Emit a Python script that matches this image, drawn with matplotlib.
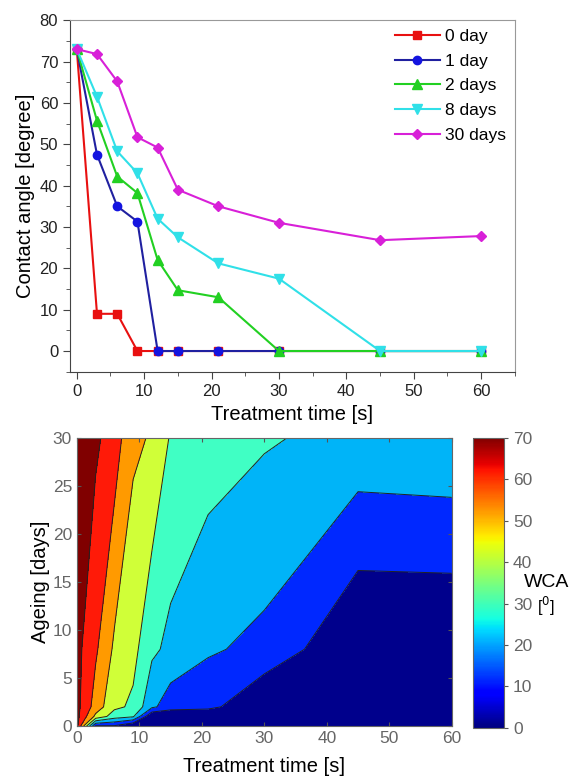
import matplotlib

matplotlib.use("Agg")
import matplotlib.pyplot as plt
import numpy as np
from matplotlib.ticker import MultipleLocator

# treatment time [s] and ageing [days]
times_s = [0, 3, 6, 9, 12, 15, 21, 30, 45, 60]
ageing_days = [0, 1, 2, 8, 30]
series_labels = ["0 day", "1 day", "2 days", "8 days", "30 days"]

wca_0_day = [73, 9, 9, 0, 0, 0, 0, 0, 0, 0]
wca_1_day = [73, 47.5, 35, 31.3, 0, 0, 0, 0, 0, 0]
wca_2_days = [73, 55.7, 42.2, 38.2, 22, 14.7, 13, 0, 0, 0]
wca_8_days = [73, 61.5, 48.3, 43, 32, 27.5, 21.2, 17.5, 0, 0]
wca_30_days = [73, 71.8, 65.2, 51.7, 49.2, 39, 35, 31, 26.8, 27.8]

contour_levels = [0, 10, 20, 30, 40, 50, 60, 70, 80]
band_colors = ["#00008c", "#0028ff", "#00b4f8", "#40ffc4",
               "#d0ff38", "#ff9a00", "#ff1a08", "#800000"]
colorbar_ticks = [0, 10, 20, 30, 40, 50, 60, 70]

plt.rcParams["font.family"] = ["Liberation Sans", "DejaVu Sans"]

fig = plt.figure(figsize=(5.74, 7.76), dpi=100)

# ---- top: contact angle vs treatment time ----
ax = fig.add_axes([0.122, 0.521, 0.775, 0.453])
styles = [
    ("#e81010", "#e81010", "s", 5.2),
    ("#2020a0", "#1414e0", "o", 6.0),
    ("#22d022", "#22d022", "^", 6.5),
    ("#30e0e8", "#30e0e8", "v", 6.5),
    ("#d820d8", "#d820d8", "D", 5.5),
]
all_series = [wca_0_day, wca_1_day, wca_2_days, wca_8_days, wca_30_days]
for values, label, (lcolor, mcolor, marker, msize) in zip(all_series, series_labels, styles):
    ax.plot(times_s, values, color=lcolor, marker=marker, markersize=msize,
            markerfacecolor=mcolor, markeredgecolor=mcolor, linewidth=1.5, label=label)

ax.set_xlim(-1, 65)
ax.set_ylim(-5, 80)
ax.xaxis.set_major_locator(MultipleLocator(10))
ax.xaxis.set_minor_locator(MultipleLocator(5))
ax.yaxis.set_major_locator(MultipleLocator(10))
ax.yaxis.set_minor_locator(MultipleLocator(5))
ax.tick_params(which="both", direction="out", colors="#444", labelsize=12, labelcolor="#222")
ax.tick_params(which="major", length=5)
ax.tick_params(which="minor", length=3)
for side in ["left", "bottom"]:
    ax.spines[side].set_color("#444")
for side in ["top", "right"]:
    ax.spines[side].set_color("#999")
ax.set_xlabel("Treatment time [s]", fontsize=14.5, labelpad=5)
ax.set_ylabel("Contact angle [degree]", fontsize=14.5, labelpad=3)
ax.legend(loc="upper right", frameon=False, fontsize=12.5, handlelength=2.6,
          handletextpad=0.3, labelspacing=0.55, borderaxespad=0.1)

# ---- bottom: contour map of WCA ----
ax2 = fig.add_axes([0.134, 0.0644, 0.653, 0.371])
Z = np.array(all_series)
ax2.contourf(times_s, ageing_days, Z, levels=contour_levels, colors=band_colors)
ax2.contour(times_s, ageing_days, Z, levels=contour_levels[1:-1], colors="#222", linewidths=0.7)
ax2.set_xlim(0, 60)
ax2.set_ylim(0, 30)
ax2.xaxis.set_major_locator(MultipleLocator(10))
ax2.yaxis.set_major_locator(MultipleLocator(5))
ax2.tick_params(direction="in", top=True, right=True, length=3, colors="#555",
                labelsize=12.5, labelcolor="#666")
for side in ax2.spines:
    ax2.spines[side].set_color("#666")
ax2.set_xlabel("Treatment time [s]", fontsize=14.5, labelpad=8)
ax2.set_ylabel("Ageing [days]", fontsize=14.5, labelpad=2)

cax = fig.add_axes([0.824, 0.062, 0.054, 0.374])
sm = plt.cm.ScalarMappable(cmap="jet", norm=plt.Normalize(0, 70))
cbar = fig.colorbar(sm, cax=cax, ticks=colorbar_ticks)
cbar.outline.set_edgecolor("#666")
cax.tick_params(direction="out", length=3, colors="#555", labelsize=12.5, labelcolor="#666")
fig.text(0.913, 0.249, "WCA", fontsize=14, ha="left", va="center")
fig.text(0.935, 0.219, "[$^0$]", fontsize=12, ha="left", va="center")

fig.savefig("out.png", dpi=100)
plt.close(fig)
